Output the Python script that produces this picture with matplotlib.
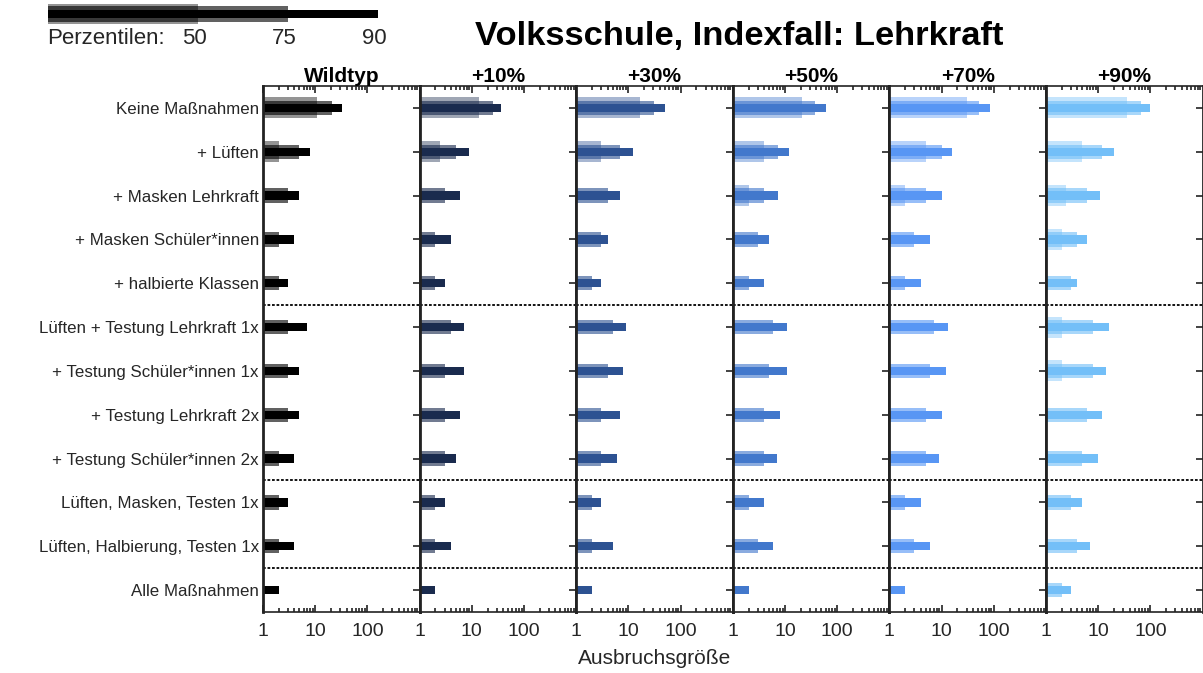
import matplotlib
matplotlib.use("Agg")
import matplotlib.pyplot as plt
import numpy as np

plt.rcParams['font.family'] = ['Liberation Sans', 'DejaVu Sans']

# measures (rows, top to bottom)
measures = ["Keine Maßnahmen", "+ Lüften", "+ Masken Lehrkraft", "+ Masken Schüler*innen",
            "+ halbierte Klassen", "Lüften + Testung Lehrkraft 1x", "+ Testung Schüler*innen 1x",
            "+ Testung Lehrkraft 2x", "+ Testung Schüler*innen 2x", "Lüften, Masken, Testen 1x",
            "Lüften, Halbierung, Testen 1x", "Alle Maßnahmen"]
variants = ["Wildtyp", "+10%", "+30%", "+50%", "+70%", "+90%"]
colors = ["#000000", "#1a2b4e", "#2d5292", "#4278cc", "#5896f4", "#73bff8"]

# outbreak size percentiles, one list per variant
p50 = [
    [11, 2, 1, 1, 1, 1, 1, 1, 1, 1, 1, 1],
    [14, 2.5, 1, 1, 1, 1, 1, 1, 1, 1, 1, 1],
    [17, 3, 1, 1, 1, 1, 1, 1, 1, 1, 1, 1],
    [21, 4, 2, 1, 1, 1, 1, 1, 1, 1, 1, 1],
    [31, 5, 2, 1, 1, 1, 1, 1, 1, 1, 1, 1],
    [36, 5, 2.4, 2, 1, 2, 2, 1, 1, 1, 1, 1],
]
p75 = [
    [21, 5, 3, 2, 2, 3, 3, 3, 2, 2, 2, 1],
    [25, 5, 3, 2, 2, 4, 3, 3, 3, 2, 2, 1],
    [31, 7, 4, 3, 2, 5, 4, 3, 3, 2, 2, 1],
    [37, 7.5, 4, 3, 2, 6, 5, 4, 4, 2, 3, 1],
    [52, 10, 5, 3, 2, 7, 6, 5, 5, 2, 3, 1],
    [67, 12, 6, 4, 3, 8, 8, 6, 5, 3, 4, 2],
]
p90 = [
    [32, 8, 5, 4, 3, 7, 5, 5, 4, 3, 4, 2],
    [37, 9, 6, 4, 3, 7, 7, 6, 5, 3, 4, 2],
    [51, 12, 7, 4, 3, 9, 8, 7, 6, 3, 5, 2],
    [60, 12, 7.5, 5, 4, 11, 11, 8, 7, 4, 6, 2],
    [83, 16, 10, 6, 4, 13, 12, 10, 9, 4, 6, 2],
    [100, 20, 11, 6, 4, 16, 14, 12, 10, 5, 7, 3],
]
separators = [4.5, 8.5, 10.5]

W, H = 1203, 673
fig = plt.figure(figsize=(W / 100, H / 100), dpi=100)

left0, pw = 263 / W, 156.6 / W
bot, top = 1 - 612 / H, 1 - 86 / H
y = np.arange(len(measures))
spine_col = "#222222"
txt_col = "#262626"

for i, name in enumerate(variants):
    ax = fig.add_axes([left0 + i * pw, bot, pw, top - bot])
    c = colors[i]
    v50 = np.array(p50[i]); v75 = np.array(p75[i]); v90 = np.array(p90[i])
    ax.barh(y, v50 - 1, left=1, height=0.48, color=c, alpha=0.42, lw=0)
    ax.barh(y, v75 - 1, left=1, height=0.33, color=c, alpha=0.62, lw=0)
    ax.barh(y, v90 - 1, left=1, height=0.19, color=c, lw=0)
    for s in separators:
        ax.axhline(s, color="black", ls=(0, (1.5, 1)), lw=1.3)
    ax.set_xscale("log")
    ax.set_xlim(1, 1000)
    ax.set_ylim(len(measures) - 0.5, -0.5)
    ax.set_xticks([1, 10, 100])
    ax.set_xticklabels(["1", "10", "100"])
    ax.set_yticks(y)
    ax.tick_params(axis="both", which="both", direction="in", top=True, right=True,
                   colors=spine_col, labelcolor=txt_col, width=1.2)
    ax.tick_params(axis="x", which="major", length=5, pad=8, labelsize=14)
    ax.tick_params(axis="x", which="minor", length=3)
    ax.tick_params(axis="y", length=5, left=False)
    if i == 0:
        ax.set_yticklabels(measures, fontsize=12.2)
        ax.tick_params(axis="y", pad=3)
    else:
        ax.set_yticklabels([])
    for sp in ax.spines.values():
        sp.set_color(spine_col)
        sp.set_linewidth(1.2)
    ax.spines["left"].set_linewidth(2)
    ax.spines["right"].set_linewidth(2)
    ax.set_title(name, fontsize=15, fontweight="bold", pad=3)
    ax.set_facecolor("white")

fig.text(655 / W, 1 - 658 / H, "Ausbruchsgröße", ha="center", va="center", fontsize=15, color=txt_col)
fig.text(739 / W, 1 - 37 / H, "Volksschule, Indexfall: Lehrkraft", ha="center", va="center",
         fontsize=24.8, fontweight="bold")

# percentile legend
legend_pct = ["50", "75", "90"]
legend_len = [0.456, 0.728, 1.0]
lax = fig.add_axes([48 / W, 1 - 25 / H, 330 / W, 22 / H])
lax.barh(0, legend_len[0], height=0.95, color="black", alpha=0.42, lw=0, align="center")
lax.barh(0, legend_len[1], height=0.72, color="black", alpha=0.62, lw=0, align="center")
lax.barh(0, legend_len[2], height=0.38, color="black", lw=0, align="center")
lax.set_xlim(0, 1)
lax.set_ylim(-0.5, 0.5)
lax.axis("off")
fig.text(47 / W, 1 - 38 / H, "Perzentilen:", ha="left", va="center", fontsize=16, color=txt_col)
for lbl, ln in zip(legend_pct, legend_len):
    fig.text((48 + ln * 330 - 4) / W, 1 - 38 / H, lbl, ha="center", va="center", fontsize=16, color=txt_col)

fig.savefig("out.png", dpi=100, facecolor="white")
